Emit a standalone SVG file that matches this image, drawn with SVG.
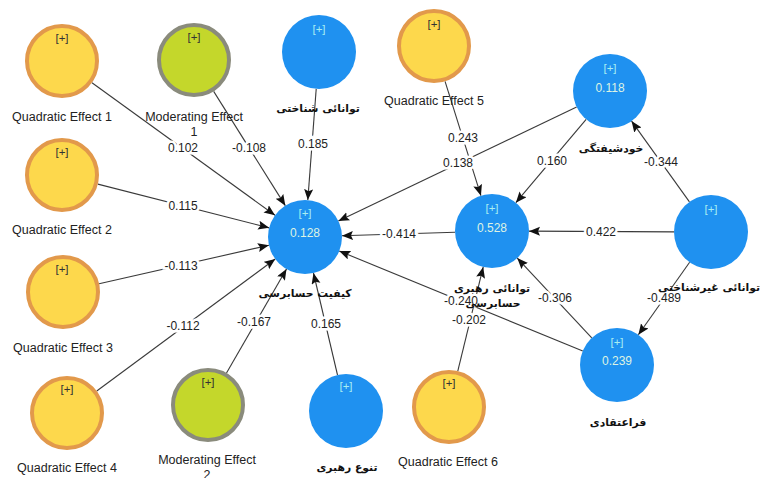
<svg xmlns="http://www.w3.org/2000/svg" width="761" height="478" viewBox="0 0 761 478">
<defs>
<marker id="ah" markerUnits="userSpaceOnUse" markerWidth="12" markerHeight="10" refX="11" refY="4.5" orient="auto">
<path d="M0,0 L11,4.5 L0,9 L2,4.5 z" fill="#111"/>
</marker>
<style>
.e{stroke:#3a3a3a;stroke-width:1.1;fill:none;marker-end:url(#ah)}
.el{font-family:"Liberation Sans",Arial,sans-serif;font-size:12px;fill:#222;text-anchor:middle;dominant-baseline:central;stroke:#fff;stroke-width:5;paint-order:stroke}
.lb{font-family:"Liberation Sans",Arial,sans-serif;font-size:12.5px;fill:#222;text-anchor:middle;dominant-baseline:central}
.fa{font-family:"DejaVu Sans","Noto Sans",sans-serif;font-size:10.8px;font-weight:bold;fill:#111;text-anchor:middle;dominant-baseline:central}
.blue{fill:#1F91F0}
.yel{fill:#FDD84C;stroke:#E2994B;stroke-width:4}
.grn{fill:#C4D72B;stroke:#8A8B7C;stroke-width:4}
.pb{font-family:"Liberation Sans",Arial,sans-serif;font-size:11.5px;fill:#A8EEF2;text-anchor:middle;dominant-baseline:central}
.vb{font-family:"Liberation Sans",Arial,sans-serif;font-size:12px;fill:#DDF3E4;text-anchor:middle;dominant-baseline:central}
.pd{font-family:"Liberation Sans",Arial,sans-serif;font-size:11.5px;fill:#333;text-anchor:middle;dominant-baseline:central}
</style>
</defs>
<rect width="761" height="478" fill="#fff"/>
<g id="connectors">
<line class="e" x1="91.97" y1="82.70" x2="275.03" y2="215.30"/>
<line class="e" x1="213.66" y1="91.35" x2="285.34" y2="205.65"/>
<line class="e" x1="316.21" y1="88.89" x2="307.79" y2="200.11"/>
<line class="e" x1="97.85" y1="184.15" x2="269.15" y2="227.85"/>
<line class="e" x1="99.08" y1="283.80" x2="268.92" y2="245.20"/>
<line class="e" x1="96.75" y1="391.00" x2="275.25" y2="259.00"/>
<line class="e" x1="226.50" y1="372.96" x2="286.50" y2="269.04"/>
<line class="e" x1="337.52" y1="375.00" x2="313.48" y2="273.00"/>
<line class="e" x1="455.02" y1="232.19" x2="341.98" y2="235.81"/>
<line class="e" x1="576.63" y1="106.98" x2="338.37" y2="221.02"/>
<line class="e" x1="582.77" y1="350.96" x2="339.23" y2="251.04"/>
<line class="e" x1="445.07" y1="81.31" x2="480.93" y2="195.69"/>
<line class="e" x1="586.15" y1="119.29" x2="515.85" y2="202.71"/>
<line class="e" x1="689.45" y1="201.92" x2="631.55" y2="121.08"/>
<line class="e" x1="674" y1="231.83" x2="529" y2="231.17"/>
<line class="e" x1="689.64" y1="262.21" x2="638.36" y2="334.79"/>
<line class="e" x1="591.76" y1="337.95" x2="517.24" y2="258.05"/>
<line class="e" x1="457.78" y1="371.06" x2="483.22" y2="266.94"/>
<g id="edge-labels">
<text class="el" x="183" y="148">0.102</text>
<text class="el" x="249" y="148">-0.108</text>
<text class="el" x="313" y="144">0.185</text>
<text class="el" x="183" y="206">0.115</text>
<text class="el" x="181" y="266">-0.113</text>
<text class="el" x="183" y="326">-0.112</text>
<text class="el" x="254" y="322">-0.167</text>
<text class="el" x="326" y="324">0.165</text>
<text class="el" x="399" y="234">-0.414</text>
<text class="el" x="463" y="138">0.243</text>
<text class="el" x="458" y="163">0.138</text>
<text class="el" x="552" y="161">0.160</text>
<text class="el" x="661" y="162">-0.344</text>
<text class="el" x="601" y="232">0.422</text>
<text class="el" x="555" y="298">-0.306</text>
<text class="el" x="664" y="298">-0.489</text>
<text class="el" x="461" y="301">-0.240</text>
<text class="el" x="469" y="320">-0.202</text>
</g>
</g>
<g id="qe1"><circle class="yel" cx="62" cy="61" r="35"/><text class="pd" x="62" y="38">[+]</text><text class="lb" x="62" y="117">Quadratic Effect 1</text></g>
<g id="me1"><circle class="grn" cx="194" cy="60" r="35"/><text class="pd" x="194" y="37">[+]</text><text class="lb" x="194" y="117">Moderating Effect</text><text class="lb" x="194" y="132">1</text></g>
<g id="cognitive"><circle class="blue" cx="319" cy="52" r="37"/><text class="pb" x="319" y="29">[+]</text><text class="fa" x="318" y="108">توانائی شناختی</text></g>
<g id="qe2"><circle class="yel" cx="62" cy="175" r="35"/><text class="pd" x="62" y="152">[+]</text><text class="lb" x="62" y="230">Quadratic Effect 2</text></g>
<g id="qe3"><circle class="yel" cx="63" cy="292" r="35"/><text class="pd" x="62" y="269">[+]</text><text class="lb" x="63" y="348">Quadratic Effect 3</text></g>
<g id="qe4"><circle class="yel" cx="67" cy="413" r="35"/><text class="pd" x="67" y="389">[+]</text><text class="lb" x="67" y="468">Quadratic Effect 4</text></g>
<g id="me2"><circle class="grn" cx="208" cy="405" r="35"/><text class="pd" x="208" y="382">[+]</text><text class="lb" x="207" y="460">Moderating Effect</text><text class="lb" x="207" y="475">2</text></g>
<g id="diversity"><circle class="blue" cx="346" cy="411" r="37"/><text class="pb" x="346" y="386">[+]</text><text class="fa" x="347" y="467">تنوع رهبری</text></g>
<g id="audit-quality"><circle class="blue" cx="305" cy="237" r="37"/><text class="pb" x="305" y="213">[+]</text><text class="vb" x="305" y="233">0.128</text><text class="fa" x="305" y="293">کیفیت حسابرسی</text></g>
<g id="qe5"><circle class="yel" cx="434" cy="46" r="35"/><text class="pd" x="434" y="24">[+]</text><text class="lb" x="434" y="101">Quadratic Effect 5</text></g>
<g id="narcissism"><circle class="blue" cx="610" cy="91" r="37"/><text class="pb" x="610" y="68">[+]</text><text class="vb" x="610" y="88">0.118</text><text class="fa" x="611" y="148">خودشیفتگی</text></g>
<g id="leadership"><circle class="blue" cx="492" cy="231" r="37"/><text class="pb" x="492" y="208">[+]</text><text class="vb" x="492" y="228">0.528</text><text class="fa" x="492" y="288">توانائی رهبری</text><text class="fa" x="493" y="303">حسابرسی</text></g>
<g id="noncognitive"><circle class="blue" cx="711" cy="232" r="37"/><text class="pb" x="711" y="209">[+]</text><text class="fa" x="709" y="287">توانائی غیرشناختی</text></g>
<g id="metabelief"><circle class="blue" cx="617" cy="365" r="37"/><text class="pb" x="617" y="342">[+]</text><text class="vb" x="617" y="361">0.239</text><text class="fa" x="618" y="422">فراعتقادی</text></g>
<g id="qe6"><circle class="yel" cx="449" cy="407" r="35"/><text class="pd" x="449" y="383">[+]</text><text class="lb" x="448" y="462">Quadratic Effect 6</text></g>
</svg>
